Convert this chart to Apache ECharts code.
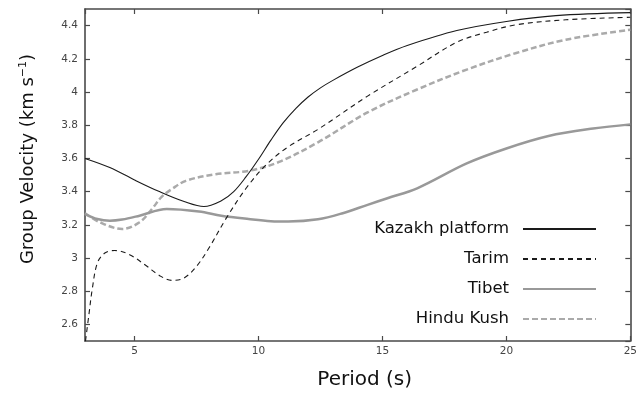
<!DOCTYPE html>
<html>
<head>
<meta charset="utf-8">
<script src="https://cdn.jsdelivr.net/npm/echarts@6/dist/echarts.min.js"></script>
<style>
html,body{margin:0;padding:0;background:#fff;}
#chart{width:640px;height:395px;}
</style>
</head>
<body>
<div id="chart"></div>
<script>
// Data
var seriesNames = ['Kazakh platform', 'Tarim', 'Tibet', 'Hindu Kush'];

var kazakhPeriod = [3, 4, 5, 6, 7, 7.8, 8.5, 9, 9.5, 10, 10.5, 11, 11.5, 12, 12.5, 13, 14, 15, 16, 18, 20, 22, 25];
var kazakhVel    = [3.6, 3.545, 3.47, 3.40, 3.34, 3.31, 3.345, 3.40, 3.49, 3.595, 3.71, 3.815, 3.90, 3.97, 4.025, 4.07, 4.15, 4.22, 4.28, 4.37, 4.425, 4.46, 4.478];

var tarimPeriod = [3.02, 3.15, 3.3, 3.5, 3.8, 4.2, 4.8, 5.5, 6.0, 6.5, 7.0, 7.5, 8.0, 8.7, 9.5, 10.3, 11.2, 12.4, 14.4, 16.4, 18, 19.2, 20.4, 22.4, 25];
var tarimVel    = [2.5, 2.65, 2.82, 2.97, 3.03, 3.045, 3.02, 2.95, 2.895, 2.865, 2.88, 2.95, 3.06, 3.24, 3.42, 3.56, 3.67, 3.775, 3.975, 4.155, 4.30, 4.36, 4.405, 4.435, 4.45];

var tibetPeriod = [3, 3.5, 4, 4.5, 5.2, 6.3, 7.6, 8.5, 9.6, 10.5, 11.2, 12.4, 13.4, 14.4, 15.2, 16.4, 18.4, 20, 21.7, 23.5, 25];
var tibetVel    = [3.265, 3.235, 3.225, 3.232, 3.255, 3.295, 3.28, 3.255, 3.235, 3.222, 3.22, 3.233, 3.27, 3.32, 3.36, 3.42, 3.57, 3.66, 3.735, 3.78, 3.805];

var hinduPeriod = [3, 3.6, 4.5, 5.2, 5.7, 6.1, 6.5, 7.07, 8.27, 9.6, 10.8, 12.4, 14.4, 16.4, 18.4, 20.4, 22.4, 25];
var hinduVel    = [3.27, 3.215, 3.175, 3.215, 3.295, 3.37, 3.415, 3.465, 3.505, 3.525, 3.577, 3.697, 3.877, 4.015, 4.135, 4.235, 4.315, 4.375];

function pairs(xs, ys) {
  var out = [];
  for (var i = 0; i < xs.length; i++) out.push([xs[i], ys[i]]);
  return out;
}

var FONT = 'DejaVu Sans';
var frameColor = '#4a4a4a';

var chart = echarts.init(document.getElementById('chart'), null, {renderer: 'canvas'});

var baseAxisLine = {show: true, lineStyle: {color: frameColor, width: 1.6}};
var baseTick = {show: true, inside: true, length: 5, lineStyle: {color: frameColor, width: 1.2}};

chart.setOption({
  animation: false,
  backgroundColor: '#fff',
  grid: {left: 85, right: 4, top: 9, bottom: 54, containLabel: false},
  legend: {
    orient: 'vertical',
    right: 38,
    top: 215,
    align: 'right',
    itemWidth: 73,
    itemHeight: 14,
    itemGap: 12,
    data: seriesNames,
    itemStyle: {opacity: 0},
    textStyle: {fontFamily: FONT, fontSize: 16.5, color: '#111', lineHeight: 18, padding: [0, 9, 0, 0]}
  },
  xAxis: [
    {
      type: 'value', position: 'bottom', min: 3, max: 25, splitNumber: 5,
      axisLine: baseAxisLine, axisTick: baseTick, splitLine: {show: false},
      axisLabel: {showMinLabel: false, fontFamily: FONT, fontSize: 10.5, color: '#444', margin: 5},
      name: 'Period (s)', nameLocation: 'middle', nameGap: 29,
      nameTextStyle: {fontFamily: FONT, fontSize: 20, color: '#111', padding: [0, 0, 0, 14]}
    },
    {
      type: 'value', position: 'top', min: 3, max: 25, splitNumber: 5,
      axisLine: baseAxisLine, axisTick: baseTick, splitLine: {show: false},
      axisLabel: {show: false}
    }
  ],
  yAxis: [
    {
      type: 'value', position: 'left', min: 2.5, max: 4.5, splitNumber: 10,
      axisLine: baseAxisLine, axisTick: baseTick, splitLine: {show: false},
      axisLabel: {showMinLabel: false, showMaxLabel: false, fontFamily: FONT, fontSize: 10.5, color: '#444', margin: 7},
      name: 'Group Velocity (km s{sup|−1})', nameLocation: 'middle', nameGap: 47,
      nameTextStyle: {
        fontFamily: FONT, fontSize: 18, color: '#111', padding: [0, 0, 0, 32],
        rich: {sup: {fontFamily: FONT, fontSize: 11, color: '#111', verticalAlign: 'top', padding: [0, 0, 9, 0]}}
      }
    },
    {
      type: 'value', position: 'right', min: 2.5, max: 4.5, splitNumber: 10,
      axisLine: baseAxisLine, axisTick: baseTick, splitLine: {show: false},
      axisLabel: {show: false}
    }
  ],
  series: [
    {
      name: seriesNames[0], type: 'line', smooth: 0.35, symbol: 'none',
      data: pairs(kazakhPeriod, kazakhVel), z: 5,
      itemStyle: {color: '#1a1a1a'},
      lineStyle: {color: '#1a1a1a', width: 1.1, type: 'solid'}
    },
    {
      name: seriesNames[1], type: 'line', smooth: 0.35, symbol: 'none',
      data: pairs(tarimPeriod, tarimVel), z: 4,
      itemStyle: {color: '#1a1a1a'},
      lineStyle: {color: '#1a1a1a', width: 1.1, type: [5, 4]}
    },
    {
      name: seriesNames[2], type: 'line', smooth: 0.35, symbol: 'none',
      data: pairs(tibetPeriod, tibetVel), z: 3,
      itemStyle: {color: '#999'},
      lineStyle: {color: '#999', width: 2.5, type: 'solid'}
    },
    {
      name: seriesNames[3], type: 'line', smooth: 0.35, symbol: 'none',
      data: pairs(hinduPeriod, hinduVel), z: 2,
      itemStyle: {color: '#aaa'},
      lineStyle: {color: '#aaa', width: 2.5, type: [6, 3]}
    }
  ]
});
</script>
</body>
</html>
